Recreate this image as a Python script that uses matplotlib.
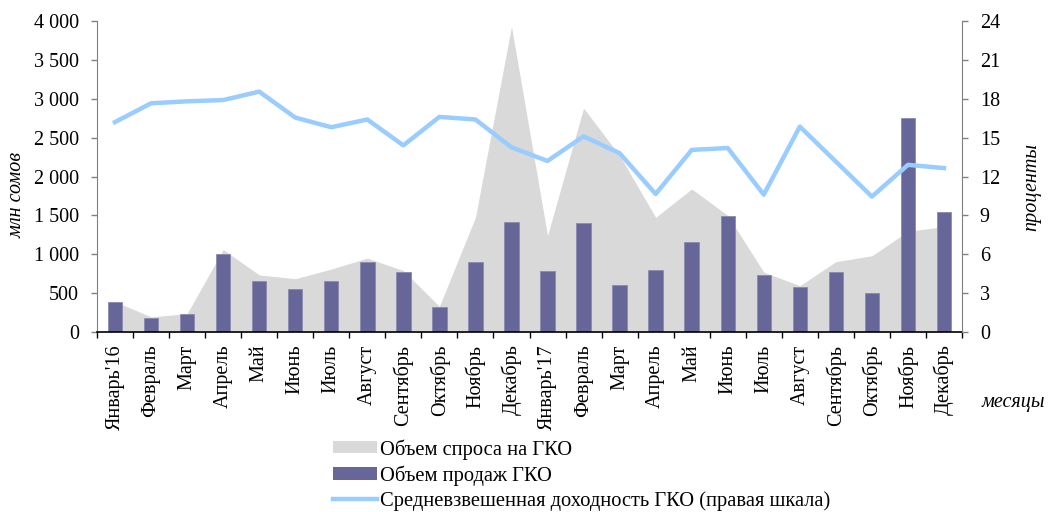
import numpy as np
import matplotlib
matplotlib.use("Agg")
import matplotlib.pyplot as plt
from matplotlib.patches import Patch
from matplotlib.lines import Line2D
from matplotlib.ticker import FuncFormatter

plt.rcParams['font.family'] = ['Liberation Serif', 'DejaVu Serif']

months = ["Январь'16", "Февраль", "Март", "Апрель", "Май", "Июнь", "Июль",
          "Август", "Сентябрь", "Октябрь", "Ноябрь", "Декабрь",
          "Январь'17", "Февраль", "Март", "Апрель", "Май", "Июнь", "Июль",
          "Август", "Сентябрь", "Октябрь", "Ноябрь", "Декабрь"]

# demand for GKO, mln som (grey area)
demand = [390, 195, 235, 1060, 735, 685, 810, 950, 790, 330, 1475, 3930,
          1240, 2880, 2270, 1475, 1840, 1500, 770, 595, 905, 980, 1295, 1355]

# sales of GKO, mln som (bars)
sales = [385, 185, 235, 1000, 660, 550, 660, 900, 770, 320, 900, 1420,
         780, 1400, 600, 800, 1160, 1490, 730, 575, 770, 500, 2750, 1545]

# weighted average yield, % (right axis)
yield_pct = [16.2, 17.65, 17.8, 17.9, 18.55, 16.55, 15.8, 16.4, 14.4, 16.6, 16.4, 14.25,
             13.2, 15.1, 13.8, 10.65, 14.05, 14.2, 10.6, 15.85, 13.15, 10.45, 12.9, 12.65]

area_color = '#d9d9d9'
bar_color = '#666699'
line_color = '#99ccff'
W, H = 1048, 512

fig = plt.figure(figsize=(10.48, 5.12), dpi=100)
ax = fig.add_axes([97 / W, 1 - 332 / H, (962 - 97) / W, (332 - 21) / H])

x = np.arange(len(months))
ax.fill_between(x, demand, color=area_color, lw=0, zorder=1)
ax.bar(x, sales, width=0.4, color=bar_color, edgecolor='#8a8ab0', linewidth=0.6, zorder=2)

ax.set_xlim(-0.5, len(months) - 0.5)
ax.set_ylim(0, 4000)
ax.set_yticks(np.arange(0, 4001, 500))
ax.yaxis.set_major_formatter(FuncFormatter(lambda v, p: f"{int(v):,}".replace(",", " ")))

ax.set_xticks(x)
ax.set_xticklabels(months, rotation=90, fontsize=14.5)
ax.set_xticks(np.arange(-0.5, len(months), 1), minor=True)
ax.tick_params(axis='x', which='major', length=0, pad=9)
ax.tick_params(axis='x', which='minor', length=4, width=1, color='black', direction='out')
ax.tick_params(axis='y', labelsize=14.5, length=4.3, width=1, color='#808080', pad=8.5)

for s in ['top', 'right']:
    ax.spines[s].set_visible(False)
ax.spines['left'].set_color('#808080')
ax.spines['bottom'].set_color('black')
ax.spines['bottom'].set_linewidth(1.2)

ax2 = ax.twinx()
ax2.plot(x, yield_pct, color=line_color, lw=3.2, solid_joinstyle='round', zorder=3)
ax2.set_ylim(0, 24)
ax2.set_yticks(np.arange(0, 25, 3))
ax2.tick_params(axis='y', labelsize=14.5, length=4.3, width=1, color='#808080', pad=8.5)
for s in ['top', 'left', 'bottom']:
    ax2.spines[s].set_visible(False)
ax2.spines['right'].set_color('#808080')

# axis titles
fig.text(17.5 / W, 1 - 195 / H, 'млн сомов', fontsize=14.5, style='italic',
         rotation=90, ha='center', va='center')
fig.text(1032 / W, 1 - 187 / H, 'проценты', fontsize=14.5, style='italic',
         rotation=90, ha='center', va='center')
fig.text(1013 / W, 1 - 402 / H, 'месяцы', fontsize=14.5, style='italic',
         ha='center', va='center')

handles = [Patch(facecolor=area_color, edgecolor='none'),
           Patch(facecolor=bar_color, edgecolor='none'),
           Line2D([0], [0], color=line_color, lw=3.2)]
labels = ['Объем спроса на ГКО', 'Объем продаж ГКО',
          'Средневзвешенная доходность ГКО (правая шкала)']
fig.legend(handles, labels, loc='upper left', bbox_to_anchor=(331 / W, 1 - 437 / H),
           frameon=False, fontsize=14.75, handlelength=2.15, handleheight=0.55,
           handletextpad=0.15, labelspacing=0.27, borderpad=0.1, borderaxespad=0)

fig.savefig('out.png', dpi=100, facecolor='white')
